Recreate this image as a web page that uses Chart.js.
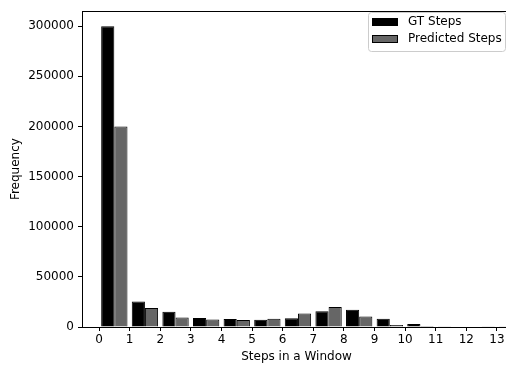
<!DOCTYPE html>
<html>
<head>
<meta charset="utf-8">
<script src="https://cdn.jsdelivr.net/npm/chart.js@4/dist/chart.umd.min.js"></script>
<style>
  html, body { margin: 0; padding: 0; background: #fff; }
  #wrap { width: 506px; height: 369px; overflow: hidden; }
  #wrap canvas { display: block; }
</style>
</head>
<body>
<div id="wrap"><canvas id="hist" width="512" height="369"></canvas></div>
<script>
// histogram bins (steps per window) and counts
const bins = [0, 1, 2, 3, 4, 5, 6, 7, 8, 9, 10, 11, 12, 13];
const gtSteps = [300000, 25500, 15300, 9100, 8000, 7200, 8800, 15700, 17300, 8200, 2900, 800, 500, 200];
const predSteps = [200000, 19000, 9500, 7500, 6900, 8200, 13400, 19900, 10400, 2000, 1000, 500, 300, 150];
const xTicks = [0, 1, 2, 3, 4, 5, 6, 7, 8, 9, 10, 11, 12, 13];
const yTicks = [0, 50000, 100000, 150000, 200000, 250000, 300000];

const FONT = "'DejaVu Sans', sans-serif";
Chart.defaults.font.family = FONT;
Chart.defaults.font.size = 12;
Chart.defaults.color = '#000';

// top spine + matplotlib-like legend box
const frame = {
  id: 'frame',
  afterDraw(chart) {
    const ctx = chart.ctx;
    const a = chart.chartArea;
    ctx.save();
    ctx.strokeStyle = '#000';
    ctx.lineWidth = 1;
    ctx.beginPath();
    ctx.moveTo(a.left, Math.round(a.top) + 0.5);
    ctx.lineTo(a.right, Math.round(a.top) + 0.5);
    ctx.stroke();

    // legend
    const x = 368.5, y = 12.5, w = 137, h = 39;
    ctx.fillStyle = 'rgba(255,255,255,0.8)';
    ctx.strokeStyle = '#cccccc';
    ctx.beginPath();
    ctx.roundRect(x, y, w, h, 3);
    ctx.fill();
    ctx.stroke();
    chart.data.datasets.forEach((ds, i) => {
      const sy = 18 + i * 17;
      ctx.fillStyle = ds.backgroundColor;
      ctx.fillRect(372, sy, 26, 8);
      ctx.strokeStyle = '#000';
      ctx.strokeRect(372.5, sy + 0.5, 25, 7);
      ctx.fillStyle = '#000';
      ctx.font = '12px ' + FONT;
      ctx.textBaseline = 'middle';
      ctx.textAlign = 'left';
      ctx.fillText(ds.label, 408, sy + 4);
    });
    ctx.restore();
  }
};

new Chart(document.getElementById('hist'), {
  type: 'bar',
  data: {
    datasets: [
      {
        label: 'GT Steps',
        data: bins.map((b, i) => ({ x: b + 0.5, y: gtSteps[i] })),
        backgroundColor: '#000000',
        borderColor: '#000000',
        borderWidth: 1,
        categoryPercentage: 0.86,
        barPercentage: 1.0
      },
      {
        label: 'Predicted Steps',
        data: bins.map((b, i) => ({ x: b + 0.5, y: predSteps[i] })),
        backgroundColor: '#666666',
        borderColor: '#000000',
        borderWidth: 1,
        categoryPercentage: 0.86,
        barPercentage: 1.0
      }
    ]
  },
  options: {
    responsive: false,
    animation: false,
    layout: { padding: { top: 6, right: 1, left: 0, bottom: 0 } },
    plugins: {
      legend: { display: false },
      tooltip: { enabled: false }
    },
    scales: {
      x: {
        type: 'linear',
        offset: false,
        min: -0.556,
        max: 13.46,
        afterBuildTicks: axis => { axis.ticks = xTicks.map(v => ({ value: v })); },
        afterFit: scale => { scale.height = 42; },
        grid: { display: true, offset: false, drawOnChartArea: false, drawTicks: true, tickLength: 4, color: '#000' },
        border: { display: true, color: '#000', width: 1 },
        ticks: { padding: 2, maxRotation: 0, autoSkip: false, callback: v => String(v) },
        title: { display: true, text: 'Steps in a Window', padding: { top: 0, bottom: 5 } }
      },
      y: {
        min: 0,
        max: 315000,
        afterBuildTicks: axis => { axis.ticks = yTicks.map(v => ({ value: v })); },
        afterFit: scale => { scale.width = 82; },
        grid: { display: true, drawOnChartArea: false, drawTicks: true, tickLength: 4, color: '#000' },
        border: { display: true, color: '#000', width: 1 },
        ticks: { padding: 4, callback: v => String(v) },
        title: { display: true, text: 'Frequency', padding: { top: 9, bottom: 0 } }
      }
    }
  },
  plugins: [frame]
});
</script>
</body>
</html>
